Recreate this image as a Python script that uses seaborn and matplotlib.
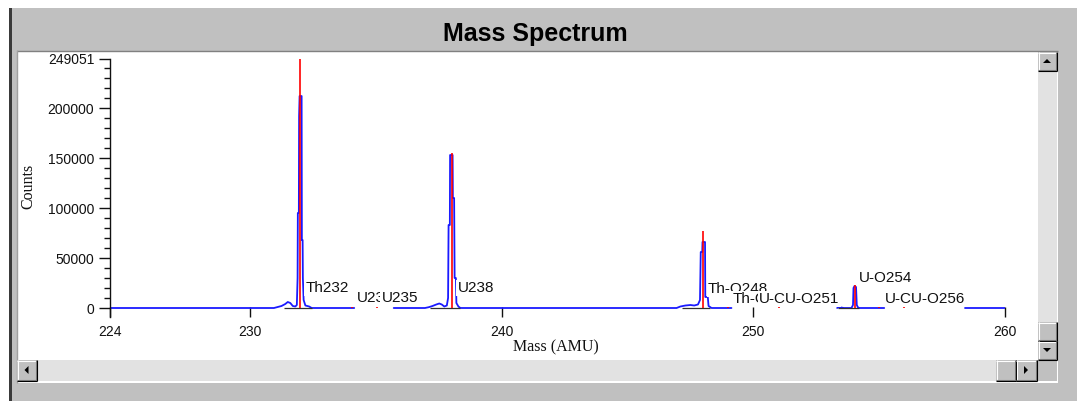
import numpy as np
import pandas as pd
import matplotlib
matplotlib.use("Agg")
import matplotlib.pyplot as plt
from matplotlib.patches import Rectangle, Polygon
from matplotlib.lines import Line2D
import seaborn as sns

# ---------------------------------------------------------------- data
# Measured profile, one scan window per segment (mass in AMU, counts)
seg1_mass = [224.42, 230.95, 231.10, 231.25, 231.40, 231.50, 231.60, 231.70, 231.80,
             231.86, 231.89, 231.90, 231.94, 231.95, 231.97, 232.05, 232.06, 232.09,
             232.10, 232.13, 232.20, 232.35, 232.45, 234.14]
seg1_counts = [0, 0, 1000, 2000, 4000, 6000, 5000, 2000, 1500,
               3000, 30000, 95000, 95000, 192000, 212000, 212000, 68000, 68000,
               30000, 8000, 2500, 1500, 0, 0]

seg2_mass = [235.71, 236.95, 237.10, 237.25, 237.40, 237.52, 237.62, 237.72, 237.82,
             237.87, 237.89, 237.94, 237.95, 238.05, 238.06, 238.11, 238.13, 238.18,
             238.20, 238.28, 238.36, 246.95, 247.10, 247.30, 247.50, 247.65, 247.80,
             247.88, 247.91, 247.97, 247.98, 248.08, 248.09, 248.19, 248.22, 248.34,
             249.13]
seg2_counts = [0, 0, 800, 2000, 3500, 4500, 3500, 1500, 2500,
               10000, 83000, 83000, 153000, 153000, 110000, 110000, 30000, 30000,
               5000, 1500, 0, 0, 1500, 2500, 3000, 2500, 3500,
               8000, 56000, 56000, 66000, 66000, 11000, 11000, 2000, 0,
               0]

seg3_mass = [253.33, 253.40, 253.48, 253.60, 253.90, 253.96, 253.98, 254.02, 254.08,
             254.11, 254.16, 254.22, 255.20]
seg3_counts = [0, 1000, 500, 0, 0, 3000, 20000, 22000, 21000,
               3000, 500, 0, 0]

seg4_mass = [258.40, 260.00]
seg4_counts = [0, 0]

# Reference isotope positions and their intensities
ref_mass = [232.00, 234.04, 235.04, 238.03, 248.00, 249.00, 251.00, 254.04, 255.00, 256.00]
ref_counts = [249051, 1200, 1500, 155000, 77000, 1200, 1200, 23000, 1000, 1200]

# Background windows around the main peaks
bkg_start = [231.35, 237.15, 247.15, 253.37]
bkg_end = [232.45, 238.35, 248.28, 254.20]

# Peak labels: text, mass position, count position
label_text = ["Th232", "U234", "U235", "U238", "Th-O248", "Th-O249",
              "U-CU-O251", "U-O254", "U-CU-O256"]
label_mass = [232.19, 234.25, 235.23, 238.25, 248.20, 249.18, 250.22, 254.20, 255.23]
label_counts = [20000, 10000, 10000, 20000, 19000, 9000, 9000, 30000, 9000]

x_ticks = [224.42, 230, 240, 250, 260]
x_tick_labels = ["224", "230", "240", "250", "260"]
y_ticks = [0, 50000, 100000, 150000, 200000, 249051]
y_tick_labels = ["0", "50000", "100000", "150000", "200000", "249051"]

# ---------------------------------------------------------------- frame
W, H = 1077, 401
sns.set_style("ticks")
plt.rcParams["font.family"] = ["Liberation Sans", "DejaVu Sans"]

fig = plt.figure(figsize=(W / 100, H / 100), dpi=100)
fig.patch.set_facecolor("#c0c0c0")


def fx(x):
    return x / W


def fy(y):
    return 1 - y / H


def rect(x0, y0, x1, y1, color, z=-5, **kw):
    r = Rectangle((fx(x0), fy(y1)), (x1 - x0) / W, (y1 - y0) / H,
                  transform=fig.transFigure, facecolor=color, edgecolor="none",
                  zorder=z, **kw)
    fig.add_artist(r)


def hline(x0, x1, y, color, lw=1.0, z=-4):
    fig.add_artist(Line2D([fx(x0), fx(x1)], [fy(y), fy(y)], transform=fig.transFigure,
                          color=color, lw=lw, zorder=z, solid_capstyle="butt"))


def vline(x, y0, y1, color, lw=1.0, z=-4):
    fig.add_artist(Line2D([fx(x), fx(x)], [fy(y0), fy(y1)], transform=fig.transFigure,
                          color=color, lw=lw, zorder=z, solid_capstyle="butt"))


def button(x0, y0, x1, y1, arrow=None):
    rect(x0, y0, x1, y1, "#c0c0c0", z=2)
    hline(x0, x1, y0 + 0.5, "#ffffff", 0.8, z=3)
    vline(x0 + 0.5, y0, y1, "#ffffff", 0.8, z=3)
    hline(x0, x1, y1 - 1.5, "#808080", 0.8, z=3)
    vline(x1 - 1.5, y0, y1, "#808080", 0.8, z=3)
    hline(x0, x1, y1 - 0.5, "#000000", 0.8, z=3)
    vline(x1 - 0.5, y0, y1, "#000000", 0.8, z=3)
    if arrow:
        cx, cy = (x0 + x1) / 2 - 0.5, (y0 + y1) / 2 - 0.5
        if arrow == "up":
            pts = [(cx - 4, cy + 2), (cx + 4, cy + 2), (cx, cy - 2)]
        elif arrow == "down":
            pts = [(cx - 4, cy - 2), (cx + 4, cy - 2), (cx, cy + 2)]
        elif arrow == "left":
            pts = [(cx + 2, cy - 4), (cx + 2, cy + 4), (cx - 2, cy)]
        else:
            pts = [(cx - 2, cy - 4), (cx - 2, cy + 4), (cx + 2, cy)]
        fig.add_artist(Polygon([(fx(a), fy(b)) for a, b in pts], closed=True,
                               transform=fig.transFigure, facecolor="black",
                               edgecolor="none", zorder=4))


# window chrome
rect(0, 0, W, 8, "#ffffff")
rect(0, 0, 8.5, H, "#ffffff")
rect(8.5, 8, 11.5, H, "#3a3a3a")
rect(17, 51, 1058, 383, "#ffffff")
hline(17, 1058, 50.5, "#808080")
vline(16.5, 50, 383, "#a0a0a0")

# vertical scrollbar
rect(1038, 71, 1057, 322, "#e2e2e2", z=1)
button(1038, 52, 1057, 71, "up")
button(1038, 322, 1057, 341)
button(1038, 341, 1057, 360, "down")
# horizontal scrollbar
rect(17, 360, 1037, 381, "#e2e2e2", z=1)
button(17, 360, 37, 381, "left")
button(996, 360, 1016, 381)
button(1016, 360, 1037, 381, "right")
rect(1037, 360, 1057, 381, "#c0c0c0", z=1)

# ---------------------------------------------------------------- axes
ax_left, ax_right, ax_top, ax_bottom = 109.6, 1005.0, 59.0, 316.5
ax = fig.add_axes([fx(ax_left), fy(ax_bottom), (ax_right - ax_left) / W,
                   (ax_bottom - ax_top) / H])
ax.set_facecolor("none")

frames = []
for sid, (m, c) in enumerate([(seg1_mass, seg1_counts), (seg2_mass, seg2_counts),
                              (seg3_mass, seg3_counts), (seg4_mass, seg4_counts)]):
    frames.append(pd.DataFrame({"mass": m, "counts": c, "segment": sid}))
spectrum = pd.concat(frames, ignore_index=True)

sns.lineplot(data=spectrum, x="mass", y="counts", units="segment", estimator=None,
             sort=False, color="#1a1aff", lw=1.3, ax=ax, legend=False, zorder=2)
ax.hlines(np.zeros(len(bkg_start)), bkg_start, bkg_end, colors="#303030", lw=0.9, zorder=2.5)
ax.vlines(ref_mass, 0, ref_counts, colors="#ff0000", lw=1.2, zorder=3)

for t, m, c in zip(label_text, label_mass, label_counts):
    ax.text(m, c, t, ha="left", va="center", fontsize=11, color="#111111",
            family=["Liberation Sans", "DejaVu Sans"], zorder=5,
            bbox=dict(facecolor="white", edgecolor="none", pad=1.0))

ax.set_xlim(224.42, 260)
ax.set_ylim(-8500, 249051)

ax.set_xticks(x_ticks)
ax.set_xticklabels(x_tick_labels)
ax.set_yticks(y_ticks)
ax.set_yticklabels(y_tick_labels)
ax.set_yticks(np.arange(0, 249051, 10000), minor=True)
ax.set_xticks([], minor=True)

ax.tick_params(axis="x", direction="in", length=7, width=1, pad=6, labelsize=10,
               colors="#111111", bottom=True, top=False)
ax.tick_params(axis="y", which="major", direction="out", length=8, width=1, pad=3,
               labelsize=10, colors="#111111")
ax.tick_params(axis="y", which="minor", direction="out", length=4, width=1,
               colors="#111111", left=True)
for lab in ax.get_xticklabels() + ax.get_yticklabels():
    lab.set_family(["Liberation Sans", "DejaVu Sans"])

for side in ["top", "right", "bottom"]:
    ax.spines[side].set_visible(False)
ax.spines["left"].set_color("#111111")
ax.spines["left"].set_linewidth(1.0)
ax.set_xlabel("")
ax.set_ylabel("")

# titles
fig.text(fx(535), fy(33.5), "Mass Spectrum", ha="center", va="center", fontsize=18,
         fontweight="bold", family=["Liberation Sans", "DejaVu Sans"], color="#000000")
fig.text(fx(28), fy(186), "Counts", ha="center", va="center", rotation=90,
         fontsize=11.5, family=["Liberation Serif", "DejaVu Serif"], color="#111111")
fig.text(fx(556), fy(347), "Mass (AMU)", ha="center", va="center", fontsize=11.5,
         family=["Liberation Serif", "DejaVu Serif"], color="#111111")

fig.savefig("out.png", dpi=100, facecolor=fig.get_facecolor())
